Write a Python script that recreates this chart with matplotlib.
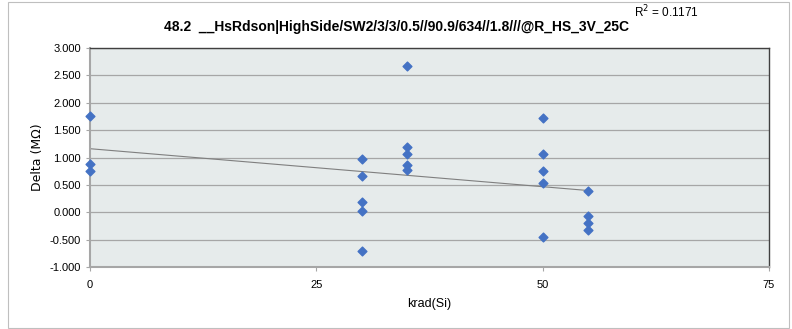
import numpy as np
import matplotlib
matplotlib.use("Agg")
import matplotlib.pyplot as plt
from matplotlib.patches import Rectangle

krad = [0, 0, 0,
        30, 30, 30, 30, 30,
        35, 35, 35, 35, 35,
        50, 50, 50, 50, 50,
        55, 55, 55, 55]
delta = [1.75, 0.88, 0.75,
         0.97, 0.67, 0.18, 0.02, -0.70,
         2.67, 1.20, 1.06, 0.86, 0.77,
         1.73, 1.06, 0.75, 0.53, -0.45,
         0.38, -0.07, -0.19, -0.32]
x_ticks = [0, 25, 50, 75]
y_ticks = [-1.0, -0.5, 0.0, 0.5, 1.0, 1.5, 2.0, 2.5, 3.0]
title = "48.2  __HsRdson|HighSide/SW2/3/3/0.5//90.9/634//1.8///@R_HS_3V_25C"
r2_text = "R$^2$ = 0.1171"

plt.rcParams['font.family'] = ['Liberation Sans', 'DejaVu Sans']

fig = plt.figure(figsize=(7.92, 3.29), dpi=100)
fig.patches.append(Rectangle((8/792, 1/329), 781/792, 326/329, transform=fig.transFigure,
                             fill=False, edgecolor='#BFBFBF', linewidth=0.8))
ax = fig.add_axes([90/792, 1 - 267/329, 679/792, 219/329])
ax.set_facecolor('#E6EBEB')
ax.set_xlim(0, 75)
ax.set_ylim(-1, 3)
ax.set_xticks(x_ticks)
ax.set_yticks(y_ticks)
ax.set_yticklabels([f"{v:.3f}" for v in y_ticks])
ax.yaxis.grid(True, color='#A6A6A6', linewidth=0.9)
ax.set_axisbelow(True)
for s in ['top', 'right']:
    ax.spines[s].set_color('#404040')
    ax.spines[s].set_linewidth(1.0)
for s in ['left', 'bottom']:
    ax.spines[s].set_color('#A6A6A6')
    ax.spines[s].set_linewidth(1.5)
ax.tick_params(axis='both', labelsize=8, color='#A6A6A6', length=3)
ax.tick_params(axis='x', pad=6)

x = np.array(krad, dtype=float)
y = np.array(delta, dtype=float)
m, b = np.polyfit(x, y, 1)
xs = np.array([x.min(), x.max()])
ax.plot(xs, m * xs + b, color='#7F7F7F', linewidth=0.8, zorder=2)
ax.scatter(x, y, marker='D', s=20, color='#4472C4', zorder=3, clip_on=False)

ax.set_xlabel("krad(Si)", fontsize=9, labelpad=6)
ax.set_ylabel("Delta (M\u03a9)", fontsize=9, family=['DejaVu Sans'], labelpad=4)
fig.text(0.5, 1 - 27/329, title, ha='center', va='center', fontsize=10, fontweight='bold')
fig.text(634/792, 1 - 12/329, r2_text, ha='left', va='center', fontsize=8.5)

fig.savefig("out.png", dpi=100)
